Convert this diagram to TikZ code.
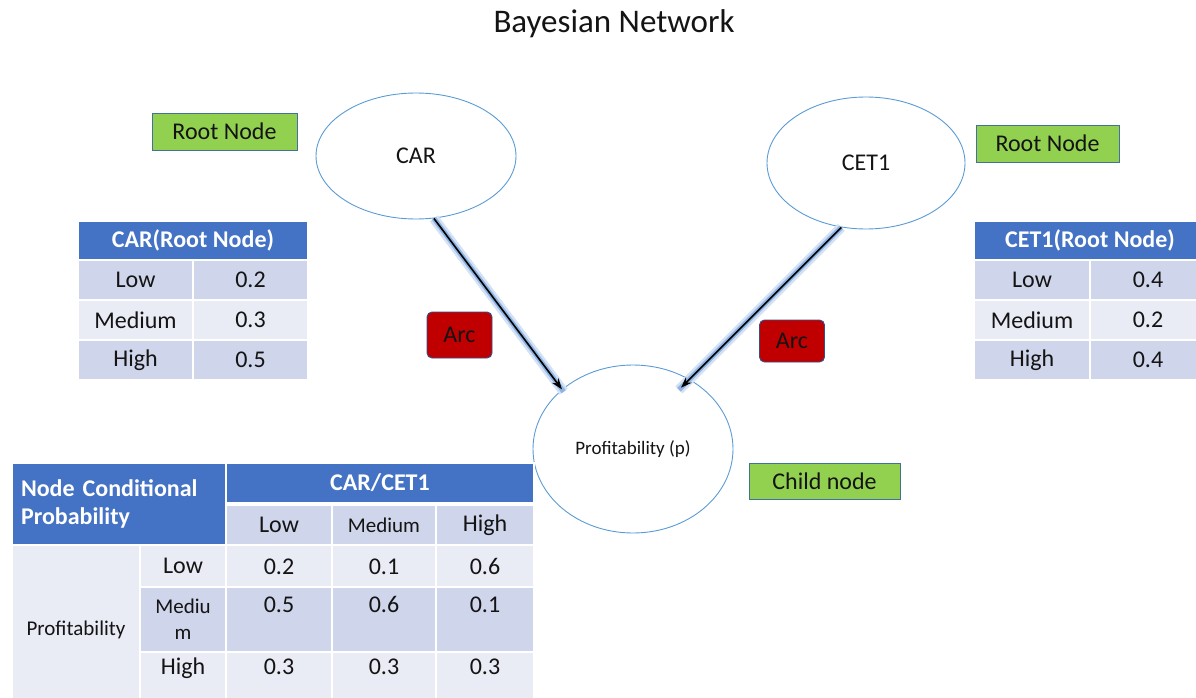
\documentclass[tikz,border=0pt]{standalone}
\usepackage{fontspec}
\setmainfont{Carlito}
\usetikzlibrary{shapes.geometric,arrows.meta,positioning}
\definecolor{hdrblue}{HTML}{4472C4}
\definecolor{rowdark}{HTML}{CFD5EA}
\definecolor{rowlight}{HTML}{E9EBF5}
\definecolor{tagGreen}{HTML}{92D050}
\definecolor{tagEdge}{HTML}{41719C}
\definecolor{arcRed}{HTML}{C00000}
\definecolor{arcEdge}{HTML}{2F528F}
\definecolor{ringBlue}{HTML}{5B9BD5}
\definecolor{glowBlue}{HTML}{8FB4E3}
\definecolor{glowSoft}{HTML}{D3E1F4}
\definecolor{ink}{HTML}{141414}
\tikzset{>={Stealth[length=11pt,width=8pt]}}
\tikzset{
  bnode/.style={ellipse, draw=ringBlue, line width=0.9pt, inner sep=0pt, text=ink, font=\fontsize{24}{29}\selectfont},
  tagbox/.style={rectangle, draw=tagEdge, line width=0.9pt, fill=tagGreen, text=ink, inner sep=0pt, font=\fontsize{24}{29}\selectfont},
  arcbox/.style={rectangle, rounded corners=5pt, draw=arcEdge, line width=0.9pt, fill=arcRed, text=ink, inner sep=0pt, minimum width=65pt, minimum height=46pt, font=\fontsize{24}{29}\selectfont},
  cell/.style={rectangle, draw=white, line width=2pt, inner sep=0pt, anchor=north west, text=ink, font=\fontsize{24}{29}\selectfont},
  hcell/.style={cell, fill=hdrblue, text=white, font=\fontsize{24}{28}\selectfont\bfseries},
  glow/.style={line width=5pt, draw=glowBlue, preaction={draw=glowSoft, line width=10pt}},
  link/.style={->, line width=1.6pt, black},
}
\begin{document}
\begin{tikzpicture}[x=1pt,y=-1pt]
  \useasboundingbox (0,0) rectangle (1196,698);
  \node[anchor=base, text=ink, font=\fontsize{33}{39}\selectfont] (title) at (614,33) {Bayesian Network};

  % network nodes
  \node[bnode, minimum width=200pt, minimum height=126pt] (car) at (416,156) {CAR};
  \node[bnode, minimum width=198pt, minimum height=132pt] (cet) at (866,163) {CET1};
  \node[bnode, minimum width=200pt, minimum height=168pt, font=\fontsize{19}{23}\selectfont] (prof) at (633,449) {Profitability (p)};

  \node[tagbox, minimum width=145pt, minimum height=37pt] (rootL) at (224.5,131.5) {Root Node};
  \node[tagbox, minimum width=143pt, minimum height=37pt] (rootR) at (1047.5,143.5) {Root Node};
  \node[tagbox, minimum width=151pt, minimum height=36pt] (child) at (824.5,481) {Child node};
  \node[arcbox] (arcL) at (459.5,335) {Arc};
  \node[arcbox, minimum height=42pt] (arcR) at (792,341) {Arc};

  % arcs
  \draw[glow, shorten >=-3pt] (car.-74) -- (prof.140);
  \draw[link] (car.-74) -- (prof.140);
  \draw[glow, shorten >=-15pt] (cet.-111) -- (prof.51);
  \draw[link, shorten >=-12pt] (cet.-111) -- (prof.51);

  % CAR table
  \node[hcell, minimum width=230pt, minimum height=39pt] (carH) at (77,220) {CAR(Root Node)};
  \foreach \lab/\val/\shade [count=\i] in {Low/0.2/rowdark, Medium/0.3/rowlight, High/0.5/rowdark} {
    \node[cell, fill=\shade, minimum width=115pt, minimum height=40pt] (carL\i) at (77,{219+40*\i}) {\lab};
    \node[cell, fill=\shade, minimum width=115pt, minimum height=40pt] (carV\i) at (192,{219+40*\i}) {\val};
  }

  % CET1 table
  \node[hcell, minimum width=232pt, minimum height=39pt] (cetH) at (973,220) {CET1(Root Node)};
  \foreach \lab/\val/\shade [count=\i] in {Low/0.4/rowdark, Medium/0.2/rowlight, High/0.4/rowdark} {
    \node[cell, fill=\shade, minimum width=116pt, minimum height=40pt] (cetL\i) at (973,{219+40*\i}) {\lab};
    \node[cell, fill=\shade, minimum width=116pt, minimum height=40pt] (cetV\i) at (1089,{219+40*\i}) {\val};
  }

  % conditional table
  \node[hcell, minimum width=214pt, minimum height=82pt, text width=196pt, align=left] (ncp) at (11,462) {Node Conditional\\Probability};
  \node[hcell, minimum width=308pt, minimum height=40pt] (cc) at (225,462) {CAR/CET1};
  \node[cell, fill=rowdark, minimum width=106pt, minimum height=40pt] (sub1) at (225,504) {Low};
  \node[cell, fill=rowdark, minimum width=104pt, minimum height=40pt, font=\fontsize{21}{25}\selectfont] (sub2) at (331,504) {Medium};
  \node[cell, fill=rowdark, minimum width=98pt, minimum height=40pt] (sub3) at (435,504) {High};

  \node[cell, fill=rowlight, minimum width=128pt, minimum height=170pt, font=\fontsize{21}{25}\selectfont] (pr) at (11,544) {Profitability};
  \node[cell, fill=rowlight, minimum width=86pt, minimum height=42pt] (pL) at (139,544) {Low};
  \node[cell, fill=rowdark, minimum width=86pt, minimum height=65pt, align=center, font=\fontsize{21}{26}\selectfont] (pM) at (139,586) {Mediu\\m};
  \node[cell, fill=rowlight, minimum width=86pt, minimum height=63pt, text height=16pt, text depth=34pt] (pH) at (139,651) {High};
  \foreach \y/\h/\dd/\shade/\va/\vb/\vc [count=\r] in {544/42/0/rowlight/0.2/0.1/0.6, 586/65/30/rowdark/0.5/0.6/0.1, 651/63/34/rowlight/0.3/0.3/0.3} {
    \node[cell, fill=\shade, minimum width=106pt, minimum height=\h pt, text height=16pt, text depth=\dd pt] (v\r a) at (225,\y) {\va};
    \node[cell, fill=\shade, minimum width=104pt, minimum height=\h pt, text height=16pt, text depth=\dd pt] (v\r b) at (331,\y) {\vb};
    \node[cell, fill=\shade, minimum width=98pt, minimum height=\h pt, text height=16pt, text depth=\dd pt] (v\r c) at (435,\y) {\vc};
  }
\end{tikzpicture}
\end{document}
